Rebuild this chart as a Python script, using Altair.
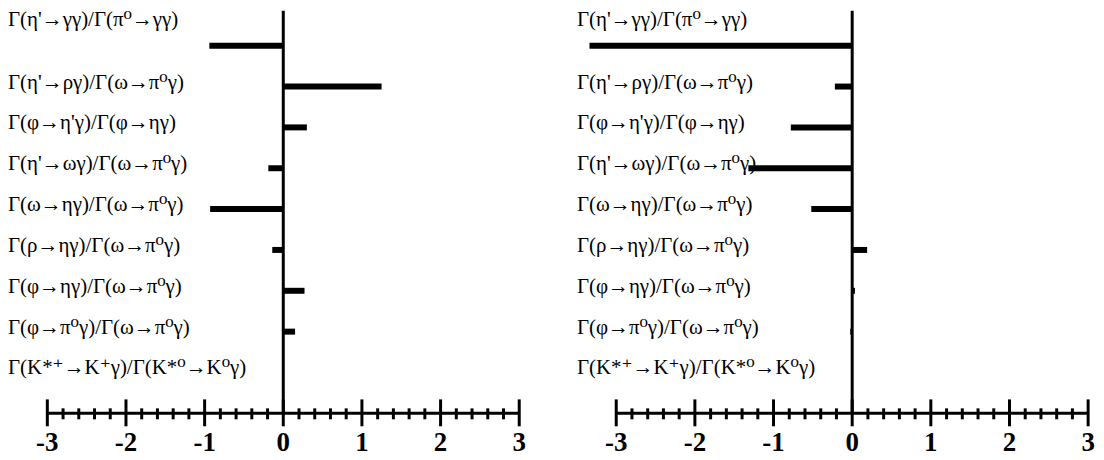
import altair as alt
import pandas as pd

# ---- data ----
labels = [
    "Γ(η'→γγ)/Γ(π⁰→γγ)",
    "Γ(η'→ργ)/Γ(ω→π⁰γ)",
    "Γ(φ→η'γ)/Γ(φ→ηγ)",
    "Γ(η'→ωγ)/Γ(ω→π⁰γ)",
    "Γ(ω→ηγ)/Γ(ω→π⁰γ)",
    "Γ(ρ→ηγ)/Γ(ω→π⁰γ)",
    "Γ(φ→ηγ)/Γ(ω→π⁰γ)",
    "Γ(φ→π⁰γ)/Γ(ω→π⁰γ)",
    "Γ(K*⁺→K⁺γ)/Γ(K*⁰→K⁰γ)",
]
rows = [0, 1, 2, 3, 4, 5, 6, 7, 8]
left_values = [-0.94, 1.25, 0.30, -0.19, -0.93, -0.14, 0.27, 0.15, 0.0]
right_values = [-3.34, -0.22, -0.78, -1.32, -0.52, 0.19, 0.035, -0.025, 0.0]

major_ticks = [-3, -2, -1, 0, 1, 2, 3]
major_labels = ["-3", "-2", "-1", "0", "1", "2", "3"]
minor_ticks = [-2.8, -2.6, -2.4, -2.2, -1.8, -1.6, -1.4, -1.2,
               -0.8, -0.6, -0.4, -0.2, 0.2, 0.4, 0.6, 0.8,
               1.2, 1.4, 1.6, 1.8, 2.2, 2.4, 2.6, 2.8]
axis_span = {"a": [-3], "b": [3]}

FONT = "'Liberation Serif', 'Times New Roman', Times, 'DejaVu Serif', serif"
W = 521
H = 404
x_scale = alt.Scale(domain=[-3.5, 3.1], nice=False, zero=False)
y_scale = alt.Scale(domain=[-0.854, 9.0], reverse=True, nice=False, zero=False)


def panel(values):
    df = pd.DataFrame({"row": rows, "label": labels, "value": values})
    base = alt.Chart(df)
    X = lambda f: alt.X(f, scale=x_scale, axis=None)
    Y = alt.Y("row:Q", scale=y_scale, axis=None)

    lab_first = base.transform_filter("datum.row == 0").mark_text(
        align="left", baseline="alphabetic", dy=-20, font=FONT, fontSize=21, color="black"
    ).encode(x=alt.value(0), y=Y, text="label:N")
    lab_rest = base.transform_filter("datum.row > 0").mark_text(
        align="left", baseline="alphabetic", dy=2, font=FONT, fontSize=21, color="black"
    ).encode(x=alt.value(0), y=Y, text="label:N")

    zero_line = alt.Chart(pd.DataFrame({"z": [0]})).mark_rule(
        strokeWidth=3, color="black"
    ).encode(x=X("z:Q"))

    bars = base.mark_rule(strokeWidth=6, color="black", strokeCap="butt").encode(
        x=X("value:Q"), x2=alt.datum(0), y=Y
    )

    axis_line = alt.Chart(pd.DataFrame(axis_span)).mark_rule(
        strokeWidth=3, color="black"
    ).encode(x=X("a:Q"), x2="b:Q", y=alt.value(H))

    major = alt.Chart(pd.DataFrame({"t": major_ticks})).mark_rule(
        strokeWidth=3, color="black"
    ).encode(x=X("t:Q"), y=alt.value(H - 14), y2=alt.value(H + 13))

    minor = alt.Chart(pd.DataFrame({"t": minor_ticks})).mark_rule(
        strokeWidth=3, color="black"
    ).encode(x=X("t:Q"), y=alt.value(H - 5), y2=alt.value(H + 6))

    tick_text = alt.Chart(pd.DataFrame({"t": major_ticks, "s": major_labels})).mark_text(
        font=FONT, fontSize=27, fontWeight="bold", baseline="alphabetic",
        align="center", color="black"
    ).encode(x=X("t:Q"), y=alt.value(H + 38), text="s:N")

    return alt.layer(
        lab_first, lab_rest, zero_line, bars, axis_line, minor, major, tick_text
    ).properties(width=W, height=H)


chart = alt.hconcat(
    panel(left_values), panel(right_values), spacing=50, bounds="flush"
).properties(padding=0).configure_view(stroke=None)

chart.save("out.html", embed_options={"renderer": "svg", "actions": False})
